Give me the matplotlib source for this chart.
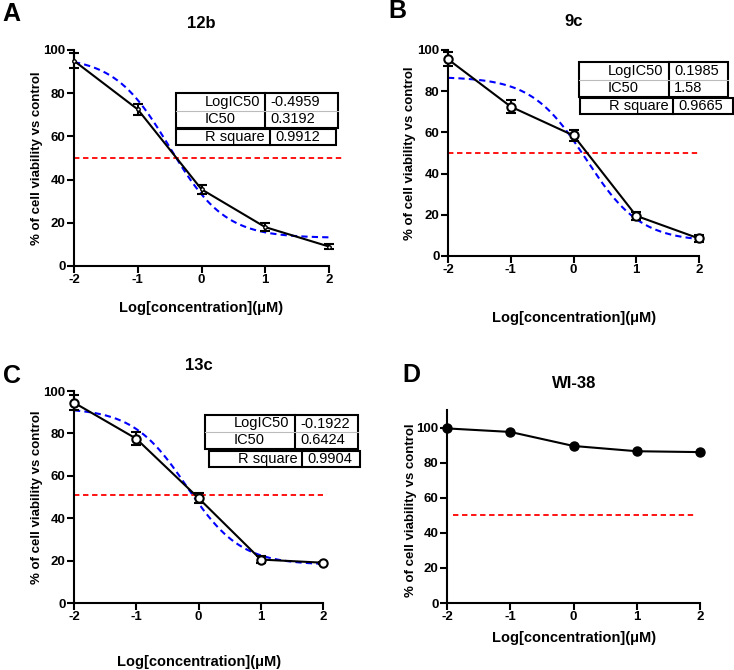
import numpy as np
import matplotlib.pyplot as plt
from matplotlib.patches import Rectangle
from matplotlib.lines import Line2D

plt.rcParams['font.family'] = ['Liberation Sans', 'DejaVu Sans']

W, H = 734, 670

# data
log_conc = [-2, -1, 0, 1, 2]

via_12b = [95.0, 72.5, 35.5, 18.0, 9.0]
err_12b = [3.5, 2.5, 2.0, 2.0, 1.0]
via_9c = [95.5, 72.5, 58.5, 19.5, 8.5]
err_9c = [3.5, 3.0, 2.5, 2.0, 1.5]
via_13c = [94.5, 77.5, 49.5, 20.5, 19.0]
err_13c = [3.5, 3.0, 2.5, 1.5, 0.5]
via_wi38 = [99.5, 97.5, 89.5, 86.5, 86.0]

# 4PL fit parameters: top, bottom, logIC50 (curve midpoint), hill
fit_12b = (97, 13, -0.5, 1.0)
fit_9c = (87, 7, 0.2, 1.0)
fit_13c = (92, 18, -0.19, 1.0)

stats_12b = [("LogIC50", "-0.4959"), ("IC50", "0.3192"), ("R square", "0.9912")]
stats_9c = [("LogIC50", "0.1985"), ("IC50", "1.58"), ("R square", "0.9665")]
stats_13c = [("LogIC50", "-0.1922"), ("IC50", "0.6424"), ("R square", "0.9904")]

fig = plt.figure(figsize=(W / 100, H / 100), dpi=100)


def fx(x):
    return x / W


def fy(y):
    return 1 - y / H


def make_axes(left, right, top, bottom):
    return fig.add_axes([fx(left), fy(bottom), (right - left) / W, (bottom - top) / H])


def four_pl(x, top, bottom, x50, hill):
    return bottom + (top - bottom) / (1 + 10 ** ((x - x50) * hill))


def style(ax, ymax=100):
    ax.set_xlim(-2, 2)
    ax.set_ylim(0, ymax)
    ax.set_xticks(log_conc)
    ax.set_xticklabels(['-2', '-1', '0', '1', '2'])
    ax.set_yticks([0, 20, 40, 60, 80, 100])
    for s in ['top', 'right']:
        ax.spines[s].set_visible(False)
    for s in ['left', 'bottom']:
        ax.spines[s].set_linewidth(1.5)
    ax.tick_params(width=1.5, length=5, labelsize=9.5, pad=1)
    for lab in ax.get_xticklabels() + ax.get_yticklabels():
        lab.set_fontweight('bold')


def stats_table(rows, box1, col1, box2, col2):
    # box = (left, top, right, bottom) in pixels
    l, t, r, b = box1
    fig.patches.append(Rectangle((fx(l), fy(b)), (r - l) / W, (b - t) / H,
                                 transform=fig.transFigure, fill=False, lw=1.5, ec='black'))
    fig.lines.append(Line2D([fx(col1), fx(col1)], [fy(t), fy(b)], transform=fig.transFigure,
                            color='black', lw=1.5))
    mid = (t + b) / 2
    fig.lines.append(Line2D([fx(l), fx(r)], [fy(mid), fy(mid)], transform=fig.transFigure,
                            color='#bbbbbb', lw=0.8))
    for i, (name, val) in enumerate(rows[:2]):
        yc = t + (mid - t) / 2 + i * (mid - t)
        fig.text(fx(l + 29), fy(yc), name, fontsize=10.5, va='center', ha='left')
        fig.text(fx(col1 + 5), fy(yc), val, fontsize=10.5, va='center', ha='left')
    l, t, r, b = box2
    fig.patches.append(Rectangle((fx(l), fy(b)), (r - l) / W, (b - t) / H,
                                 transform=fig.transFigure, fill=False, lw=1.5, ec='black'))
    fig.lines.append(Line2D([fx(col2), fx(col2)], [fy(t), fy(b)], transform=fig.transFigure,
                            color='black', lw=1.5))
    name, val = rows[2]
    fig.text(fx(l + 29), fy((t + b) / 2), name, fontsize=10.5, va='center', ha='left')
    fig.text(fx(col2 + 5), fy((t + b) / 2), val, fontsize=10.5, va='center', ha='left')


def labels(ax_cx, title, title_y, letter, letter_x, letter_y, ylab_x, ylab_y, xlab_y):
    fig.text(fx(ax_cx), fy(title_y), title, fontsize=12, fontweight='bold', ha='center', va='center')
    fig.text(fx(letter_x), fy(letter_y), letter, fontsize=18, fontweight='bold', ha='center', va='center')
    fig.text(fx(ylab_x), fy(ylab_y), '% of cell viability vs control', fontsize=9.5,
             fontweight='bold', rotation=90, ha='center', va='center')
    fig.text(fx(ax_cx), fy(xlab_y), 'Log[concentration](μM)', fontsize=10.5,
             fontweight='bold', ha='center', va='center')


xs = np.linspace(-2, 2, 200)

# A - 12b
ax = make_axes(74, 329, 50, 266)
ax.plot(xs, four_pl(xs, *fit_12b), color='blue', ls=(0, (3, 2)), lw=1.5, zorder=2)
ax.errorbar(log_conc, via_12b, yerr=err_12b, color='black', lw=1.5, capsize=3.5,
            capthick=1.5, marker='o', ms=2.5, mfc='white', mec='black', zorder=3, clip_on=False)
ax.plot([-2, 2.2], [50, 50], color='red', ls=(0, (3, 2)), lw=1.3, clip_on=False)
style(ax)
labels(201, '12b', 24, 'A', 11, 14, 37, 158, 308)
stats_table(stats_12b, (176, 93, 338, 128), 265, (176, 129, 336, 145), 270)

# B - 9c
ax = make_axes(448, 699, 50, 256)
ax.plot(xs, four_pl(xs, *fit_9c), color='blue', ls=(0, (3, 2)), lw=1.5, zorder=2)
ax.errorbar(log_conc, via_9c, yerr=err_9c, color='black', lw=1.5, capsize=3.5,
            capthick=1.5, marker='o', ms=6, mfc='white', mec='black', mew=1.5, zorder=3, clip_on=False)
ax.plot([-2, 2], [50, 50], color='red', ls=(0, (3, 2)), lw=1.3, clip_on=False)
style(ax)
labels(574, '9c', 22, 'B', 397, 11, 410, 153, 318)
stats_table(stats_9c, (579, 62, 728, 97), 669, (580, 98, 733, 114), 673)

# C - 13c
ax = make_axes(74, 323, 391, 603)
ax.plot(xs, four_pl(xs, *fit_13c), color='blue', ls=(0, (3, 2)), lw=1.5, zorder=2)
ax.errorbar(log_conc, via_13c, yerr=err_13c, color='black', lw=1.5, capsize=3.5,
            capthick=1.5, marker='o', ms=6, mfc='white', mec='black', mew=1.5, zorder=3, clip_on=False)
ax.plot([-2, 2], [51, 51], color='red', ls=(0, (3, 2)), lw=1.3, clip_on=False)
style(ax)
labels(199, '13c', 365, 'C', 12, 376, 37, 497, 662)
stats_table(stats_13c, (205, 415, 358, 449), 295, (209, 451, 360, 467), 302)

# D - WI-38
ax = make_axes(447, 700, 410, 603)
ax.plot(log_conc, via_wi38, color='black', lw=1.5, marker='o', ms=6.5, zorder=3, clip_on=False)
ax.plot([-1.9, 1.9], [50, 50], color='red', ls=(0, (3, 2)), lw=1.3)
style(ax, ymax=110)
labels(574, 'WI-38', 383, 'D', 411, 375, 411, 510, 638)

fig.savefig('out.png', dpi=100)
